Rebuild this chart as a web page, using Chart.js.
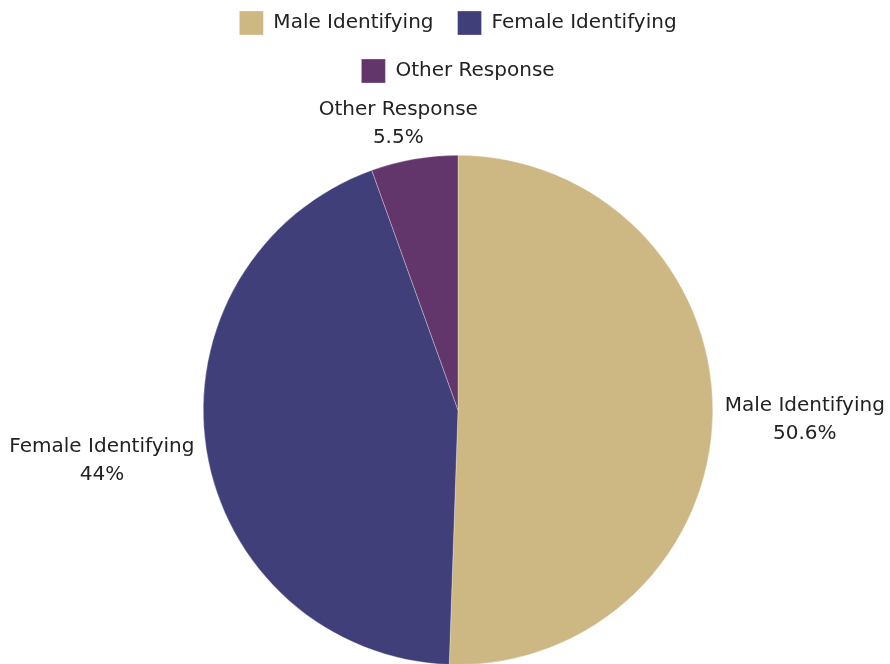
<!DOCTYPE html>
<html lang="en">
<head>
  <meta charset="UTF-8" />
  <title>Gender Identification</title>
  <script src="https://cdn.jsdelivr.net/npm/chart.js@4.4.0/dist/chart.umd.min.js"></script>
  <style>
    html, body {
      margin: 0;
      padding: 0;
      background: #ffffff;
      overflow: hidden;
    }
    .chart-box {
      position: relative;
      width: 890px;
      height: 666px;
    }
  </style>
</head>
<body>
  <div class="chart-box">
    <canvas id="pieChart" width="890" height="666"></canvas>
  </div>

  <script>
    // Data
    const categories = ['Male Identifying', 'Female Identifying', 'Other Response'];
    const shares = [50.6, 44, 5.5];
    const sliceColors = ['#cdb782', '#413f79', '#62366b'];

    const FONT = "'DejaVu Sans', sans-serif";
    const FONT_SIZE = 20;
    const TEXT_COLOR = '#222222';

    // Extra room under the legend so the pie sits lower
    const legendSpacer = {
      id: 'legendSpacer',
      beforeInit(chart) {
        const origFit = chart.legend.fit;
        chart.legend.fit = function () {
          origFit.bind(chart.legend)();
          this.height = 168;
        };
      }
    };

    // Draws "label / value%" outside each slice, pushed out along the mid angle
    const outsideLabels = {
      id: 'outsideLabels',
      afterDatasetsDraw(chart) {
        const ctx = chart.ctx;
        const meta = chart.getDatasetMeta(0);
        const lineH = 28;
        ctx.save();
        ctx.font = FONT_SIZE + 'px ' + FONT;
        ctx.fillStyle = TEXT_COLOR;
        ctx.textAlign = 'center';
        ctx.textBaseline = 'middle';
        meta.data.forEach((arc, i) => {
          const p = arc.getProps(['x', 'y', 'startAngle', 'endAngle', 'outerRadius'], true);
          const mid = (p.startAngle + p.endAngle) / 2;
          let vx = Math.cos(mid), vy = Math.sin(mid);
          const r = p.outerRadius + 12;
          const ax = p.x + vx * r, ay = p.y + vy * r;
          const s = 1 / Math.max(Math.abs(vx), Math.abs(vy));
          vx *= s; vy *= s;
          const lines = [categories[i], shares[i] + '%'];
          const w = Math.max(...lines.map(t => ctx.measureText(t).width));
          const h = lineH * lines.length;
          const cx = ax + vx * w / 2;
          const cy = ay + vy * h / 2 + 5;
          lines.forEach((t, k) => {
            ctx.fillText(t, cx, cy - h / 2 + lineH * (k + 0.5));
          });
        });
        ctx.restore();
      }
    };

    const ctx = document.getElementById('pieChart').getContext('2d');
    const pieChart = new Chart(ctx, {
      type: 'pie',
      data: {
        labels: categories,
        datasets: [{
          data: shares,
          backgroundColor: sliceColors,
          borderColor: 'rgba(255,255,255,0.6)',
          borderWidth: 0.5
        }]
      },
      options: {
        responsive: false,
        animation: false,
        layout: {
          padding: { left: 203, right: 177, top: -13, bottom: 1 }
        },
        plugins: {
          legend: {
            position: 'top',
            labels: {
              boxWidth: 24,
              boxHeight: 24,
              padding: 24,
              color: TEXT_COLOR,
              font: { family: FONT, size: FONT_SIZE }
            }
          },
          tooltip: { enabled: false }
        }
      },
      plugins: [legendSpacer, outsideLabels]
    });
  </script>
</body>
</html>
